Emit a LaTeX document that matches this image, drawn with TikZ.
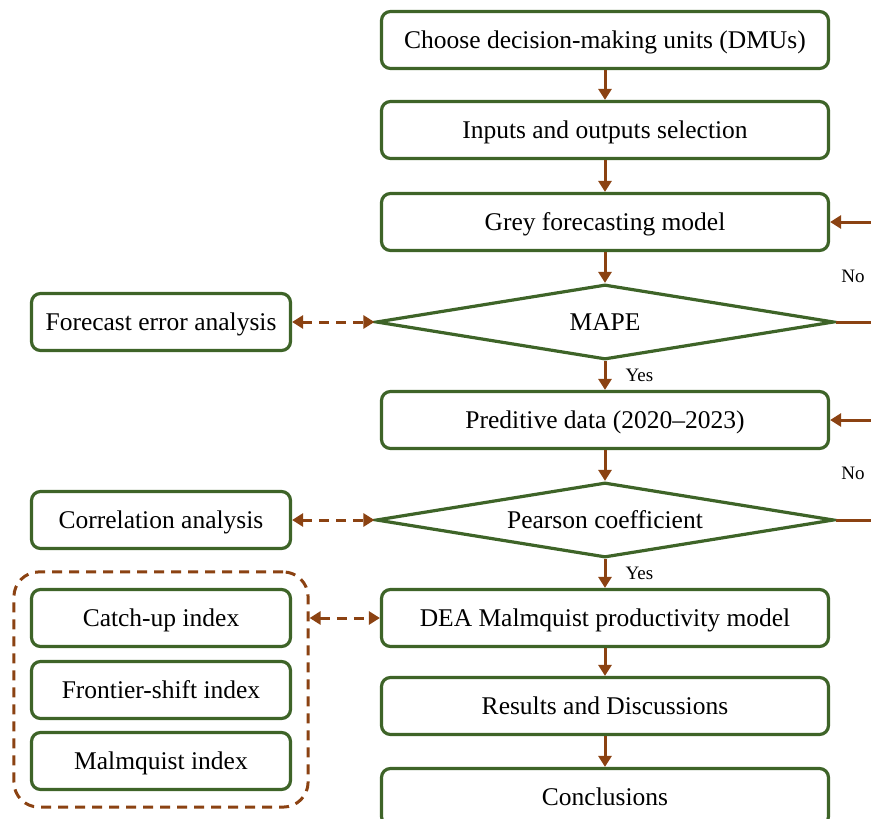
\documentclass[tikz,border=0pt]{standalone}
\usepackage{fontspec}
\setmainfont{Liberation Serif}
\usetikzlibrary{arrows.meta,shapes.geometric,fit}
\definecolor{grn}{RGB}{62,100,40}
\definecolor{brn}{RGB}{139,66,18}
\newcommand\bigf{\fontsize{25.5}{30}\selectfont}
\newcommand\smallf{\fontsize{19}{22}\selectfont}
\tikzset{
  box/.style={draw=grn, line width=3.2pt, rounded corners=9pt, fill=white,
    minimum width=447pt, minimum height=57pt, inner sep=0pt, font=\bigf,
    text height=21pt, text depth=4pt},
  sbox/.style={box, minimum width=259pt},
  dia/.style={draw=grn, line width=3.2pt, shape=diamond, aspect=6, fill=white,
    minimum width=458pt, minimum height=75pt, inner sep=0pt, font=\bigf,
    text height=21pt, text depth=4pt},
  arr/.style={draw=brn, line width=3pt, -{Triangle[length=11pt,width=13pt]}},
  darr/.style={draw=brn, line width=3pt, dash pattern=on 10pt off 7pt,
    {Triangle[length=11pt,width=13pt]}-{Triangle[length=11pt,width=13pt]}},
  lbl/.style={font=\smallf, inner sep=0pt},
  dashbox/.style={draw=brn, line width=3pt, dash pattern=on 10pt off 7pt,
    rounded corners=25pt, inner sep=16pt}
}
\begin{document}
\begin{tikzpicture}[x=1pt,y=-1pt]
\useasboundingbox (0,0) rectangle (871,819);
\clip (0,0) rectangle (871,819);
% main column
\node[box] (dmu)  at (605,40)  {Choose decision-making units (DMUs)};
\node[box] (io)   at (605,130) {Inputs and outputs selection};
\node[box] (grey) at (605,222) {Grey forecasting model};
\node[dia] (mape) at (605,322) {MAPE};
\node[box] (pred) at (605,420) {Preditive data (2020--2023)};
\node[dia] (pear) at (605,520) {Pearson coefficient};
\node[box] (dea)  at (605,618) {DEA Malmquist productivity model};
\node[box] (res)  at (605,706) {Results and Discussions};
\node[box] (conc) at (605,797) {Conclusions};
% left column
\node[sbox] (fea)  at (161,322) {Forecast error analysis};
\node[sbox] (corr) at (161,520) {Correlation analysis};
\node[sbox] (cu)   at (161,618) {Catch-up index};
\node[sbox] (fs)   at (161,690) {Frontier-shift index};
\node[sbox] (mi)   at (161,761) {Malmquist index};
\node[dashbox, fit=(cu)(fs)(mi)] (grp) {};
% main arrows
\draw[arr] (dmu) -- (io);
\draw[arr] (io) -- (grey);
\draw[arr] (grey) -- (mape);
\draw[arr] (mape) -- node[lbl, midway, right=19pt] (yes1) {Yes} (pred);
\draw[arr] (pred) -- (pear);
\draw[arr] (pear) -- node[lbl, midway, right=19pt] (yes2) {Yes} (dea);
\draw[arr] (dea) -- (res);
\draw[arr] (res) -- (conc);
% feedback loops
\draw[arr] (mape.east) -- ++(70,0) |- (grey.east);
\draw[arr] (pear.east) -- ++(70,0) |- (pred.east);
\node[lbl] (no1) at (853,276) {No};
\node[lbl] (no2) at (853,473) {No};
% dashed links
\draw[darr] (fea.east) -- (mape.west);
\draw[darr] (corr.east) -- (pear.west);
\draw[darr] (grp.east |- dea.west) -- (dea.west);
\end{tikzpicture}
\end{document}
